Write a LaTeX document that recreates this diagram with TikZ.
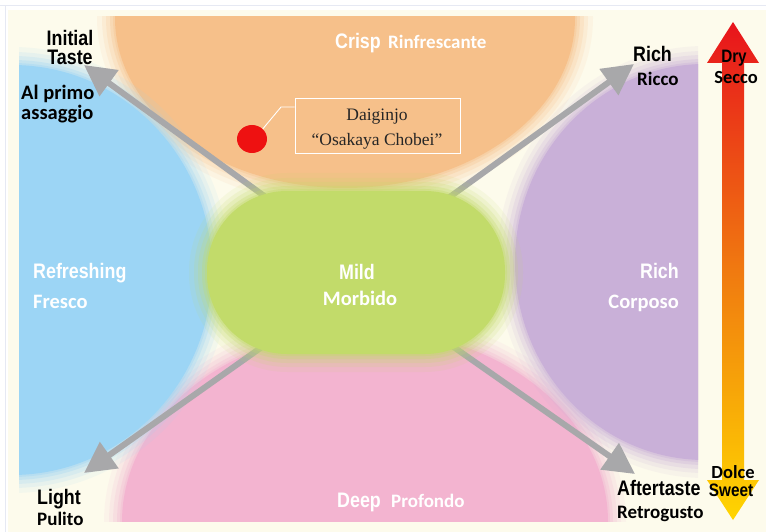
\documentclass[tikz,border=0pt]{standalone}
\usepackage{fontspec}
\setmainfont{Carlito}
\newfontfamily\condf[FakeStretch=0.85]{Liberation Sans}
\newfontfamily\serf{Liberation Serif}
\usetikzlibrary{arrows.meta,shadings,shapes.geometric}
\definecolor{cream}{HTML}{FDFBEC}
\definecolor{orangeR}{HTML}{F6C08A}
\definecolor{blueR}{HTML}{9CD5F5}
\definecolor{purpleR}{HTML}{C9B0D8}
\definecolor{pinkR}{HTML}{F3B4D0}
\definecolor{greenR}{HTML}{C2DB6A}
\definecolor{grayA}{HTML}{A8A8AA}
\definecolor{dotR}{HTML}{EE1111}
\definecolor{dryR}{HTML}{E8141C}
\definecolor{midO}{HTML}{F07A10}
\definecolor{sweetY}{HTML}{FFD500}
\definecolor{lineF}{HTML}{E6E9F3}
\newcommand\softellipse[5]{%
  \foreach \d/\o in {18/0.10,13/0.15,9/0.2,5/0.28,2/0.35}{%
    \fill[#1,opacity=\o] (#2,#3) ellipse [x radius={#4pt+\d pt}, y radius={#5pt+\d pt}];}
  \fill[#1] (#2,#3) ellipse [x radius=#4pt, y radius=#5pt];}
\tikzset{
  cornerlab/.style={font=\condf\bfseries\fontsize{21}{21}\selectfont, text=black, inner sep=0pt},
  cornersub/.style={font=\bfseries\fontsize{19}{19}\selectfont, text=black, inner sep=0pt},
  reglab/.style={font=\condf\bfseries\fontsize{21}{21}\selectfont, text=white, inner sep=0pt},
  regsub/.style={font=\bfseries\fontsize{20.5}{20.5}\selectfont, text=white, inner sep=0pt},
  scalelab/.style={font=\condf\bfseries\fontsize{18}{18}\selectfont, text=black, inner sep=0pt},
  scalesub/.style={font=\bfseries\fontsize{18.5}{18.5}\selectfont, text=black, inner sep=0pt},
  diagarrow/.style={draw=grayA, line width=6pt, -{Triangle[length=31pt,width=31pt]}},
  sakelab/.style={font=\serf\fontsize{17.5}{17.5}\selectfont, text=black!85, inner sep=0pt},
}
\begin{document}
\begin{tikzpicture}[x=1pt,y=-1pt]
\useasboundingbox (0,0) rectangle (766,532);
\fill[white] (0,0) rectangle (766,532);
\draw[lineF, line width=1pt] (0,6) -- (766,6);
\draw[lineF, line width=1pt] (5,6) -- (5,532);
\fill[cream] (8,10) rectangle (766,532);
% soft regions
\begin{scope}
  \clip (19,17) rectangle (698,521);
  \softellipse{orangeR}{345}{18}{230}{170}
  \softellipse{pinkR}{365}{522}{243}{192}
  \softellipse{blueR}{12}{270}{200}{205}
  \softellipse{purpleR}{705}{262}{190}{198}
\end{scope}
% diagonal arrows
\coordinate (cTL) at (300,222);
\coordinate (cTR) at (415,222);
\coordinate (cBL) at (300,320);
\coordinate (cBR) at (415,320);
\coordinate (tTL) at (84,65);
\coordinate (tTR) at (634,64);
\coordinate (tBL) at (84,473);
\coordinate (tBR) at (635,474);
\draw[diagarrow] (cTL) -- (tTL);
\draw[diagarrow] (cTR) -- (tTR);
\draw[diagarrow] (cBL) -- (tBL);
\draw[diagarrow] (cBR) -- (tBR);
% green blob
\foreach \d/\o in {18/0.10,13/0.15,9/0.2,5/0.28,2/0.35}{%
  \fill[greenR,opacity=\o,rounded corners={80pt+\d pt}] (207-\d,191-\d) rectangle (505+\d,354+\d);}
\fill[greenR,rounded corners=80pt] (207,191) rectangle (505,354);
% dry-sweet arrow
\shade[top color=dryR, bottom color=sweetY, middle color=midO]
  (733,22) -- (759,63) -- (744,63) -- (744,480) -- (759,480) -- (733,520)
  -- (707,480) -- (722,480) -- (722,63) -- (707,63) -- cycle;
% sake marker
\node[draw=white, line width=0.8pt, minimum width=165pt, minimum height=55pt, inner sep=0pt] (box) at (377.5,125.5) {};
\node[sakelab, anchor=base] (dai) at (377,121) {Daiginjo};
\node[sakelab, anchor=base] (osa) at (377,146) {“Osakaya Chobei”};
\node[fill=dotR, ellipse, minimum width=30pt, minimum height=28pt, inner sep=0pt] (dot) at (252,139) {};
\coordinate (bend) at (281,107);
\draw[white, line width=0.9pt] (dot.north east) -- (bend) -- (box.west |- bend);
% corner labels
\node[cornerlab, anchor=base] (initial) at (70,46) {Initial};
\node[cornerlab, anchor=base] (taste) at (70,65) {Taste};
\node[cornersub, font=\bfseries\fontsize{20.5}{20.5}\selectfont, anchor=base west] (alprimo) at (21,100) {Al primo};
\node[cornersub, font=\bfseries\fontsize{20.5}{20.5}\selectfont, anchor=base west] (assaggio) at (21,120) {assaggio};
\node[cornerlab, anchor=base west] (rich1) at (633,62) {Rich};
\node[cornersub, anchor=base west] (ricco) at (637,86) {Ricco};
\node[cornerlab, anchor=base west] (light) at (37,504) {Light};
\node[cornersub, anchor=base west] (pulito) at (37,525) {Pulito};
\node[cornerlab, anchor=base west] (after) at (617,495) {Aftertaste};
\node[cornersub, anchor=base west] (retro) at (617,518) {Retrogusto};
\node[scalelab, anchor=base] (dry) at (734,63) {Dry};
\node[scalesub, anchor=base] (secco) at (736,84) {Secco};
\node[scalesub, anchor=base] (dolce) at (733,478) {Dolce};
\node[scalelab, anchor=base] (sweet) at (731,496) {Sweet};
% region labels
\node[reglab, anchor=base west] (crisp) at (335,49) {Crisp};
\node[regsub, font=\bfseries\fontsize{19}{19}\selectfont, anchor=base west] (rinf) at (388,49) {Rinfrescante};
\node[reglab, anchor=base west] (deep) at (337,507) {Deep};
\node[regsub, font=\bfseries\fontsize{19}{19}\selectfont, anchor=base west] (prof) at (391,507) {Profondo};
\node[reglab, anchor=base west] (refr) at (33,278) {Refreshing};
\node[regsub, anchor=base west] (fresco) at (33,308) {Fresco};
\node[reglab, anchor=base] (mild) at (357,279) {Mild};
\node[regsub, anchor=base] (morb) at (360,305) {Morbido};
\node[reglab, anchor=base east] (rich2) at (679,278) {Rich};
\node[regsub, anchor=base east] (corp) at (679,308) {Corposo};
\end{tikzpicture}
\end{document}
